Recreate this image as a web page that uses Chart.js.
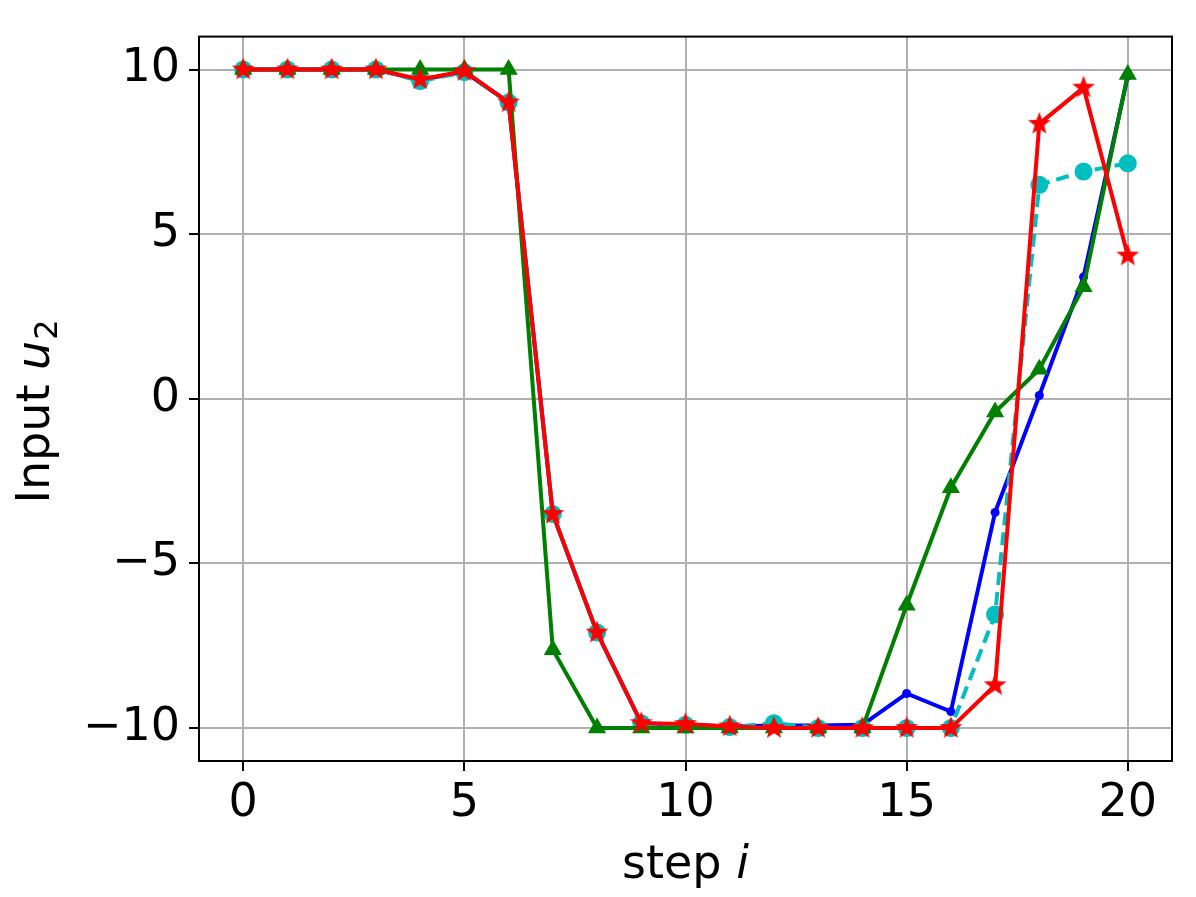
<!DOCTYPE html>
<html>
<head>
<meta charset="utf-8">
<script src="https://cdn.jsdelivr.net/npm/chart.js@4"></script>
<style>
  html, body { margin: 0; padding: 0; background: #fff; }
  #wrap { width: 1196px; height: 897px; }
</style>
</head>
<body>
<div id="wrap"><canvas id="chart" width="1196" height="897"></canvas></div>
<script>
const steps = [0,1,2,3,4,5,6,7,8,9,10,11,12,13,14,15,16,17,18,19,20];
const blueVals  = [10,10,10,10,9.68,9.93,9.0,-3.5,-7.1,-9.85,-9.9,-9.95,-9.92,-9.92,-9.9,-8.95,-9.5,-3.45,0.1,3.7,9.8];
const cyanVals  = [10,10,10,10,9.65,9.92,9.0,-3.5,-7.1,-9.85,-9.9,-9.97,-9.85,-10,-10,-10,-10,-6.55,6.5,6.9,7.15];
const greenVals = [10,10,10,10,10,10,10,-7.62,-10,-10,-10,-10,-10,-10,-10,-6.27,-2.7,-0.4,0.9,3.4,9.85];
const redVals   = [10,10,10,10,9.7,9.95,9.0,-3.5,-7.1,-9.85,-9.88,-9.95,-10,-10,-10,-10,-10,-8.7,8.35,9.45,4.35];
const xTicks = [0,5,10,15,20];
const yTicks = [-10,-5,0,5,10];

const FONT = 'DejaVu Sans';
const FS = 46;

// filled star like matplotlib '*'
function makeStar(r, color) {
  const c = document.createElement('canvas');
  c.width = c.height = r * 2 + 2;
  const g = c.getContext('2d');
  g.beginPath();
  for (let i = 0; i < 10; i++) {
    const rad = i % 2 === 0 ? r : r * 0.42;
    const a = -Math.PI / 2 + i * Math.PI / 5;
    const px = r + 1 + rad * Math.cos(a);
    const py = r + 1 + rad * Math.sin(a);
    if (i === 0) g.moveTo(px, py); else g.lineTo(px, py);
  }
  g.closePath();
  g.fillStyle = color;
  g.fill();
  return c;
}
const starImg = makeStar(12, '#ff0000');

function pts(vals) {
  return vals.map((v, i) => ({ x: steps[i], y: v }));
}

function fmt(v) {
  return v < 0 ? '\u2212' + Math.abs(v) : String(v);
}

const framePlugin = {
  id: 'frame',
  afterDraw(chart) {
    const { ctx, chartArea: a } = chart;
    ctx.save();
    ctx.strokeStyle = '#000';
    ctx.lineWidth = 2;
    ctx.strokeRect(a.left, a.top, a.right - a.left, a.bottom - a.top);

    ctx.fillStyle = '#000';
    ctx.textBaseline = 'alphabetic';
    const xs = FS + 'px "' + FONT + '"';
    const xi = 'italic ' + FS + 'px "' + FONT + '"';
    const sub = Math.round(FS * 0.7) + 'px "' + FONT + '"';
    // x title: "step i"
    ctx.font = xs;
    const w1 = ctx.measureText('step ').width;
    ctx.font = xi;
    const w2 = ctx.measureText('i').width;
    let x0 = (a.left + a.right) / 2 - (w1 + w2) / 2;
    ctx.textAlign = 'left';
    ctx.font = xs;
    ctx.fillText('step ', x0, 878);
    ctx.font = xi;
    ctx.fillText('i', x0 + w1, 878);

    // y title: "Input u2"
    ctx.translate(49, 412);
    ctx.rotate(-Math.PI / 2);
    ctx.font = xs;
    const t1 = ctx.measureText('Input ').width;
    ctx.font = xi;
    const t2 = ctx.measureText('u').width;
    ctx.font = sub;
    const t3 = ctx.measureText('2').width;
    let s = -(t1 + t2 + t3) / 2;
    ctx.font = xs;
    ctx.fillText('Input ', s, 0);
    ctx.font = xi;
    ctx.fillText('u', s + t1, 0);
    ctx.font = sub;
    ctx.fillText('2', s + t1 + t2 + 1, 8);
    ctx.restore();
  }
};

new Chart(document.getElementById('chart'), {
  type: 'line',
  data: {
    datasets: [
      {
        data: pts(blueVals), borderColor: '#0000ff', backgroundColor: '#0000ff', order: 4,
        borderWidth: 4, pointRadius: 4.5, pointBorderWidth: 0, pointStyle: 'circle'
      },
      {
        data: pts(cyanVals), borderColor: '#00bfbf', backgroundColor: '#00bfbf', order: 3,
        borderWidth: 4, borderDash: [13, 7], pointRadius: 9, pointBorderWidth: 0, pointStyle: 'circle'
      },
      {
        data: pts(greenVals), borderColor: '#008000', backgroundColor: '#008000', order: 2,
        borderWidth: 4, pointRadius: 10.5, pointBorderWidth: 0, pointStyle: 'triangle'
      },
      {
        data: pts(redVals), borderColor: '#ff0000', backgroundColor: '#ff0000', order: 1,
        borderWidth: 4, pointStyle: starImg, pointRadius: 12
      }
    ]
  },
  options: {
    responsive: false,
    animation: false,
    devicePixelRatio: 1,
    layout: { padding: { top: 35, right: 24, left: 0, bottom: 0 } },
    plugins: { legend: { display: false }, tooltip: { enabled: false } },
    scales: {
      x: {
        type: 'linear', min: -1, max: 21,
        afterBuildTicks: (s) => { s.ticks = xTicks.map(v => ({ value: v })); },
        afterFit: (s) => { s.height = 136; },
        grid: { color: '#b0b0b0', lineWidth: 2, tickColor: '#000', tickLength: 10, drawTicks: true },
        border: { display: false },
        ticks: { color: '#000', font: { family: FONT, size: FS }, padding: 5, maxRotation: 0, callback: fmt }
      },
      y: {
        type: 'linear', min: -11, max: 11,
        afterBuildTicks: (s) => { s.ticks = yTicks.map(v => ({ value: v })); },
        afterFit: (s) => { s.width = 199; },
        grid: { color: '#b0b0b0', lineWidth: 2, tickColor: '#000', tickLength: 10, drawTicks: true },
        border: { display: false },
        ticks: { color: '#000', font: { family: FONT, size: FS }, padding: 9, callback: fmt }
      }
    }
  },
  plugins: [framePlugin]
});
</script>
</body>
</html>
